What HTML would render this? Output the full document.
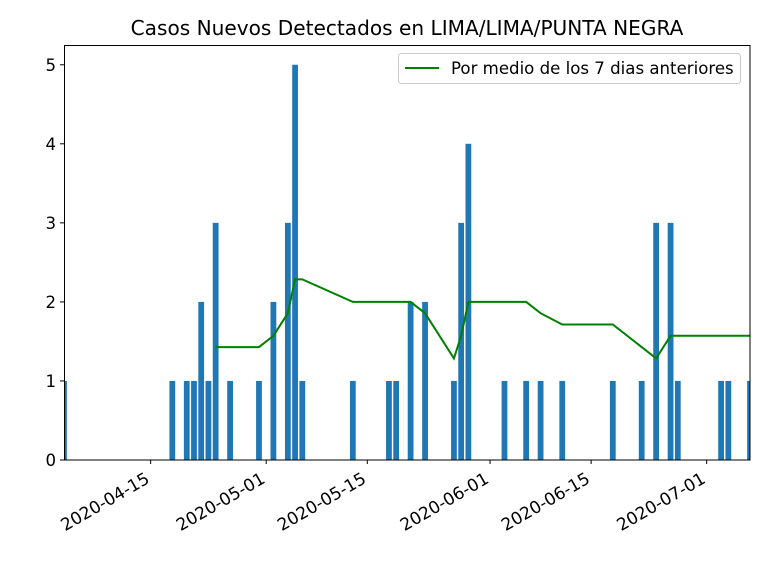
<!DOCTYPE html>
<html><head><meta charset="utf-8"><style>
html,body{margin:0;padding:0;background:#fff;}
svg{display:block;font-family:"DejaVu Sans","Liberation Sans",sans-serif;}
</style></head><body>
<svg id="chart" width="768" height="576" viewBox="0 0 768 576">
<text x="407" y="35" text-anchor="middle" font-size="20.1" fill="#000">Casos Nuevos Detectados en LIMA/LIMA/PUNTA NEGRA</text>
<defs><clipPath id="pc"><rect x="64" y="45" width="686" height="415"/></clipPath></defs>
<g id="bars" clip-path="url(#pc)"></g>
<g id="line" clip-path="url(#pc)"></g>
<rect x="64.5" y="45.5" width="685.5" height="414.5" fill="none" stroke="#000" stroke-width="1"/>
<g id="axes"></g>
<g>
<rect x="398.5" y="53.5" width="342" height="30" rx="3" fill="#fff" fill-opacity="0.8" stroke="#ccc"/>
<line x1="405" y1="68" x2="439" y2="68" stroke="#008000" stroke-width="2"/>
<text x="451" y="74" font-size="16.6" fill="#000">Por medio de los 7 dias anteriores</text>
</g>
</svg>
<script>
// days since 2020-04-03
const dayOffsets = [0,15,17,18,19,20,21,23,27,29,31,32,33,40,45,46,48,50,54,55,56,61,64,66,69,76,80,82,84,85,91,92,95];
const caseCounts = [1,1,1,1,2,1,3,1,1,2,3,5,1,1,1,1,2,2,1,3,4,1,1,1,1,1,1,3,3,1,1,1,1];
const yTicks = [0,1,2,3,4,5];
const xTickDays = [12,28,42,59,73,89];
const xTickLabels = ["2020-04-15","2020-05-01","2020-05-15","2020-06-01","2020-06-15","2020-07-01"];

const X0=64,X1=750,Y0=460,Y1=45;
const xMin=0,xMax=95,yMin=0,yMax=5.25;
const sx=d=>X0+(d-xMin)/(xMax-xMin)*(X1-X0);
const sy=v=>Y0-(v-yMin)/(yMax-yMin)*(Y0-Y1);
const NS="http://www.w3.org/2000/svg";
const bars=document.getElementById('bars');
const bw=0.8*(X1-X0)/(xMax-xMin);
dayOffsets.forEach((d,i)=>{
  const r=document.createElementNS(NS,'rect');
  r.setAttribute('x',sx(d)-bw/2);
  r.setAttribute('y',sy(caseCounts[i]));
  r.setAttribute('width',bw);
  r.setAttribute('height',sy(0)-sy(caseCounts[i]));
  r.setAttribute('fill','#1f77b4');
  
  
  bars.appendChild(r);
});
// rolling mean of 7 previous records
const pts=[];
for(let i=6;i<caseCounts.length;i++){
  let s=0;for(let k=i-6;k<=i;k++)s+=caseCounts[k];
  pts.push(sx(dayOffsets[i]).toFixed(2)+','+sy(s/7).toFixed(2));
}
const pl=document.createElementNS(NS,'polyline');
pl.setAttribute('points',pts.join(' '));
pl.setAttribute('fill','none');
pl.setAttribute('stroke','#008000');
pl.setAttribute('stroke-width','2');


document.getElementById('line').appendChild(pl);

const ax=document.getElementById('axes');
yTicks.forEach(v=>{
  const y=sy(v);
  const t=document.createElementNS(NS,'line');
  t.setAttribute('x1',X0-4);t.setAttribute('x2',X0);t.setAttribute('y1',y);t.setAttribute('y2',y);
  t.setAttribute('stroke','#000');
  
  
  ax.appendChild(t);
  const tx=document.createElementNS(NS,'text');
  tx.setAttribute('x',X0-8);tx.setAttribute('y',y+6);
  tx.setAttribute('text-anchor','end');tx.setAttribute('font-size','16.6');
  tx.textContent=v;
  
  
  ax.appendChild(tx);
});
xTickDays.forEach((d,i)=>{
  const x=sx(d);
  const t=document.createElementNS(NS,'line');
  t.setAttribute('x1',x);t.setAttribute('x2',x);t.setAttribute('y1',Y0);t.setAttribute('y2',Y0+4);
  t.setAttribute('stroke','#000');
  
  
  ax.appendChild(t);
  const tx=document.createElementNS(NS,'text');
  tx.setAttribute('transform','translate('+(x)+','+(Y0+22)+') rotate(-30)');
  tx.setAttribute('text-anchor','end');tx.setAttribute('font-size','17');
  tx.textContent=xTickLabels[i];
  
  
  ax.appendChild(tx);
});
</script>
</body></html>
